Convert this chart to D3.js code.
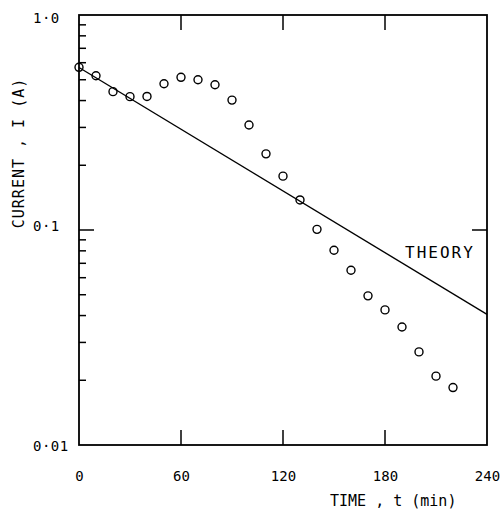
<!DOCTYPE html>
<html>
<head>
<meta charset="utf-8">
<script src="https://cdn.jsdelivr.net/npm/d3@7"></script>
<style>
  html, body { margin: 0; padding: 0; background: #fff; }
  svg { display: block; }
  text { font-family: "DejaVu Sans Mono", monospace; fill: #000; }
</style>
</head>
<body>
<svg id="chart" width="503" height="510"></svg>
<script>
// ---- data ----
const timeMin = [0, 10, 20, 30, 40, 50, 60, 70, 80, 90, 100, 110, 120, 130, 140, 150, 160, 170, 180, 190, 200, 210, 220];
const currentA = [0.571, 0.522, 0.440, 0.417, 0.418, 0.479, 0.513, 0.500, 0.474, 0.402, 0.308, 0.226, 0.178, 0.138, 0.1007, 0.0805, 0.065, 0.0494, 0.0425, 0.0354, 0.0271, 0.0209, 0.0185];
const theoryT = [0, 240];
const theoryI = [0.57, 0.0405];
const xTickValues = [0, 60, 120, 180, 240];
const xTickLabels = ["0", "60", "120", "180", "240"];
const yMajorValues = [1.0, 0.1, 0.01];
const yMajorLabels = ["1\u00b70", "0\u00b71", "0\u00b701"];
const yMinorValues = [0.9, 0.8, 0.7, 0.6, 0.5, 0.4, 0.3, 0.2, 0.09, 0.08, 0.07, 0.06, 0.05, 0.04, 0.03, 0.02];
const theoryLabel = "THEORY";
const xTitle = "TIME , t (min)";
const yTitle = "CURRENT , I  (A)";

// ---- layout ----
const L = 79, R = 487, T = 15, B = 445;
const svg = d3.select("#chart");
const x = d3.scaleLinear().domain([0, 240]).range([L, R]);
const y = d3.scaleLog().domain([0.01, 1]).range([B, T]);

// frame
svg.append("rect").attr("x", L).attr("y", T).attr("width", R - L).attr("height", B - T)
  .attr("fill", "none").attr("stroke", "#000").attr("stroke-width", 1.8);

// bottom labels
const inner = [60, 120, 180];
const bAxis = d3.axisBottom(x).tickValues(xTickValues)
  .tickFormat((d, i) => xTickLabels[i]).tickSize(0).tickPadding(24);
const gb = svg.append("g").attr("transform", `translate(0,${B})`).call(bAxis);
gb.select(".domain").remove();
gb.selectAll("text").style("font-size", "14px").attr("dy", "0.35em").attr("y", 31);

// inward ticks bottom and top
svg.append("g").selectAll("line").data(inner).join("line")
  .attr("x1", d => x(d)).attr("x2", d => x(d)).attr("y1", B).attr("y2", B - 15)
  .attr("stroke", "#000").attr("stroke-width", 1.5);
svg.append("g").selectAll("line").data(inner).join("line")
  .attr("x1", d => x(d)).attr("x2", d => x(d)).attr("y1", T).attr("y2", T + 15)
  .attr("stroke", "#000").attr("stroke-width", 1.5);

// left axis ticks
svg.append("g").selectAll("line").data(yMinorValues).join("line")
  .attr("x1", L).attr("x2", L + 7).attr("y1", d => y(d)).attr("y2", d => y(d))
  .attr("stroke", "#000").attr("stroke-width", 1.5);
svg.append("line").attr("x1", L).attr("x2", L + 15).attr("y1", y(0.1)).attr("y2", y(0.1))
  .attr("stroke", "#000").attr("stroke-width", 1.5);
svg.append("line").attr("x1", R).attr("x2", R - 15).attr("y1", y(0.1)).attr("y2", y(0.1))
  .attr("stroke", "#000").attr("stroke-width", 1.5);

// y labels
svg.append("g").selectAll("text").data(yMajorValues).join("text")
  .attr("x", 33).attr("y", d => y(d)).attr("dy", (d, i) => i === 0 ? "0.55em" : (i === 1 ? "0.05em" : "0.4em"))
  .style("font-size", "14px").style("letter-spacing", "0.5px").text((d, i) => yMajorLabels[i]);

// theory line
const line = d3.line().x(d => x(d[0])).y(d => y(d[1]));
svg.append("path").datum(theoryT.map((t, i) => [t, theoryI[i]]))
  .attr("d", line).attr("fill", "none").attr("stroke", "#000").attr("stroke-width", 1.3);

// data circles
svg.append("g").selectAll("circle").data(timeMin.map((t, i) => [t, currentA[i]])).join("circle")
  .attr("cx", d => x(d[0])).attr("cy", d => y(d[1])).attr("r", 4)
  .attr("fill", "none").attr("stroke", "#000").attr("stroke-width", 1.4);

// THEORY label
svg.append("text").attr("x", 405).attr("y", 252).attr("dy", "0.35em")
  .style("font-size", "16px").style("letter-spacing", "2px").text(theoryLabel);

// axis titles
svg.append("text").attr("x", 330).attr("y", 501).attr("dy", "0.35em")
  .style("font-size", "15px").text(xTitle);
svg.append("text").attr("transform", "translate(19,153) rotate(-90)")
  .attr("text-anchor", "middle").attr("dy", "0.35em")
  .style("font-size", "15px").style("letter-spacing", "1px").text(yTitle);
</script>
</body>
</html>
